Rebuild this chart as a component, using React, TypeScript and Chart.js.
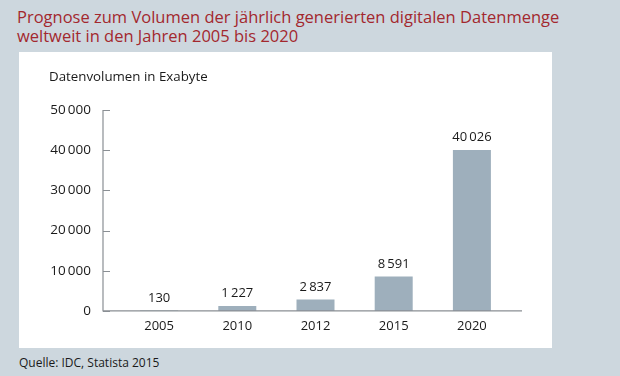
import React, { useEffect, useRef } from "react";
import { Chart, registerables } from "chart.js";

Chart.register(...registerables);

const categories = ["2005", "2010", "2012", "2015", "2020"];
const values = [130, 1227, 2837, 8591, 40026];
const valueLabels = ["130", "1\u2009227", "2\u2009837", "8\u2009591", "40\u2009026"];
const yTicks = [0, 10000, 20000, 30000, 40000, 50000];

const FONT = "'Open Sans', 'Noto Sans', sans-serif";
const fmt = (v: number) =>
  v >= 1000 ? Math.floor(v / 1000) + "\u2009" + String(v % 1000).padStart(3, "0") : String(v);

const axisPlugin = {
  id: "customAxes",
  afterDatasetsDraw(chart: any) {
    const { ctx, scales } = chart;
    const y = scales.y;
    const x = scales.x;
    const ax = chart.chartArea.left - 17;
    const y0 = y.getPixelForValue(0);
    const yTop = y.getPixelForValue(50000);
    ctx.save();
    ctx.strokeStyle = "#8a8f94";
    ctx.lineWidth = 1.2;
    ctx.beginPath();
    ctx.moveTo(ax, yTop);
    ctx.lineTo(ax, y0);
    ctx.lineTo(x.right + 11, y0);
    ctx.stroke();
    ctx.lineWidth = 1;
    yTicks.forEach((t) => {
      const py = Math.round(y.getPixelForValue(t)) + 0.5;
      ctx.beginPath();
      ctx.moveTo(ax, py);
      ctx.lineTo(ax + 7, py);
      ctx.stroke();
    });
    // value labels
    const meta = chart.getDatasetMeta(0);
    ctx.fillStyle = "#1a1a1a";
    ctx.font = "13px " + FONT;
    ctx.textAlign = "center";
    ctx.textBaseline = "bottom";
    meta.data.forEach((el: any, i: number) => {
      ctx.fillText(valueLabels[i], el.x, Math.min(el.y, y0) - 6);
    });
    ctx.restore();
  },
};

export default function App() {
  const ref = useRef<HTMLCanvasElement | null>(null);
  useEffect(() => {
    document.body.style.margin = "0";
    const chart = new Chart(ref.current as HTMLCanvasElement, {
      type: "bar",
      data: {
        labels: categories,
        datasets: [
          {
            data: values,
            backgroundColor: "#9eafbc",
            barPercentage: 1,
            categoryPercentage: 0.486,
          },
        ],
      },
      options: {
        animation: false,
        responsive: false,
        layout: { padding: { top: 58, right: 41, left: 0, bottom: 0 } },
        plugins: { legend: { display: false }, tooltip: { enabled: false } },
        scales: {
          x: {
            grid: { display: false, drawTicks: false },
            border: { display: false },
            ticks: { color: "#1a1a1a", font: { family: FONT, size: 13 }, padding: 8 },
            afterFit: (s: any) => {
              s.height = 36;
            },
          },
          y: {
            min: 0,
            max: 50000,
            grid: { display: false, drawTicks: false },
            border: { display: false },
            afterBuildTicks: (s: any) => {
              s.ticks = yTicks.map((v) => ({ value: v }));
            },
            ticks: {
              color: "#1a1a1a",
              font: { family: FONT, size: 13.5 },
              padding: 29,
              callback: (v: any) => fmt(Number(v)),
            },
            afterFit: (s: any) => {
              s.width = 101;
            },
          },
        },
      },
      plugins: [axisPlugin],
    });
    return () => chart.destroy();
  }, []);

  return (
    <div
      style={{
        position: "fixed",
        left: 0,
        top: 0,
        width: 620,
        height: 376,
        background: "#cdd7de",
        fontFamily: FONT,
        overflow: "hidden",
      }}
    >
      <div
        style={{
          position: "absolute",
          left: 17,
          top: 7,
          color: "#a3282e",
          fontSize: 16.5,
          lineHeight: "19px",
          whiteSpace: "nowrap",
        }}
      >
        Prognose zum Volumen der jährlich generierten digitalen Datenmenge
        <br />
        weltweit in den Jahren 2005 bis 2020
      </div>
      <div
        style={{
          position: "absolute",
          left: 19,
          top: 52,
          width: 533,
          height: 296,
          background: "#ffffff",
        }}
      >
        <canvas ref={ref} width={533} height={296} style={{ position: "absolute", left: 0, top: 0 }} />
        <div
          style={{
            position: "absolute",
            left: 30,
            top: 15,
            fontSize: 13.3,
            color: "#1a1a1a",
            whiteSpace: "nowrap",
          }}
        >
          Datenvolumen in Exabyte
        </div>
      </div>
      <div
        style={{
          position: "absolute",
          left: 19,
          top: 354,
          fontSize: 12,
          color: "#1a1a1a",
          whiteSpace: "nowrap",
        }}
      >
        Quelle: IDC, Statista 2015
      </div>
    </div>
  );
}
